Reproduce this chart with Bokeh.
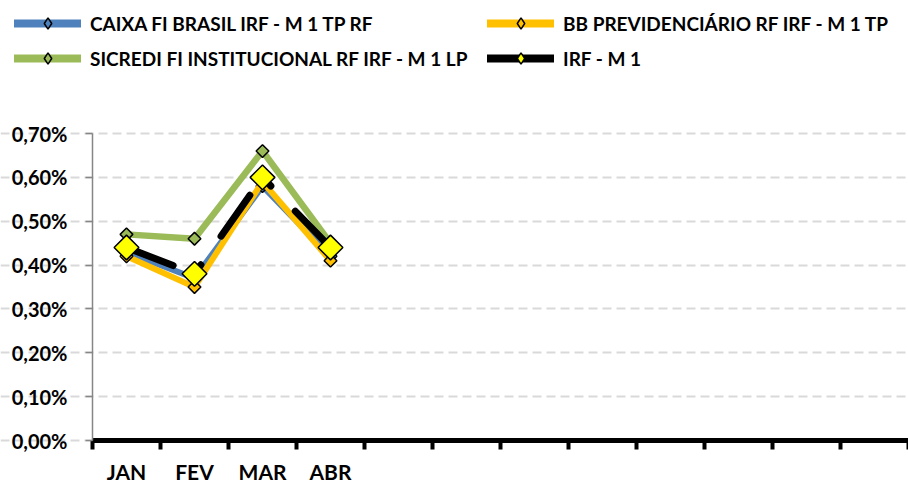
import math
from bokeh.plotting import figure
from bokeh.models import (FixedTicker, CustomJSTickFormatter, Legend, LegendItem, Range1d)
from bokeh.embed import file_html
from bokeh.resources import INLINE

# ---- data (percent) ----
months = ["JAN", "FEV", "MAR", "ABR"]
n_slots = 12
caixa = [0.43, 0.37, 0.58, 0.42]
bb = [0.42, 0.35, 0.59, 0.41]
sicredi = [0.47, 0.46, 0.66, 0.45]
irfm1 = [0.44, 0.38, 0.60, 0.44]
y_ticks = [0.0, 0.1, 0.2, 0.3, 0.4, 0.5, 0.6, 0.7]
y_max = 0.70

labels = {
    "caixa": "CAIXA FI BRASIL IRF - M 1 TP RF",
    "bb": "BB PREVIDENCIÁRIO RF IRF - M 1 TP",
    "sicredi": "SICREDI FI INSTITUCIONAL RF IRF - M 1 LP",
    "irf": "IRF - M 1",
}

FONT = "Lato"
BLUE = "#4f81bd"
ORANGE = "#ffc000"
GREEN = "#9bbb59"
YELLOW = "#ffff00"

# layout: plot area spans x=92..908 and y=133 (0.70%)..440 (0.00%).
# The frame covers the whole canvas so that legends and axis labels (drawn
# inside the frame) are not clipped; both axes sit at fixed data locations.
W, H, AREA_BOTTOM, AREA_TOP, AREA_LEFT = 908, 485, 440, 133, 92
px_per_unit = (AREA_BOTTOM - AREA_TOP) / y_max
y_start = -(H - AREA_BOTTOM) / px_per_unit
y_end = AREA_BOTTOM / px_per_unit
slot_px = (W - AREA_LEFT) / n_slots
x_start = 0.5 - AREA_LEFT / slot_px

x = list(range(1, len(months) + 1))

p = figure(width=W, height=H, output_backend="svg", toolbar_location=None,
           x_range=Range1d(x_start, n_slots + 0.5), y_range=Range1d(y_start, y_end),
           min_border_left=0, min_border_right=0, min_border_top=0,
           min_border_bottom=0)
p.outline_line_color = None
p.background_fill_color = "white"

ROT = math.pi / 4

def series(vals, color, lw=6, dash="solid"):
    return p.line(x, vals, line_color=color, line_width=lw, line_cap="round",
                  line_join="round", line_dash=dash)

series(caixa, BLUE)
p.scatter(x, caixa, marker="square", angle=ROT, size=9,
          fill_color=BLUE, line_color="black", line_width=1.5)
series(bb, ORANGE)
p.scatter(x, bb, marker="square", angle=ROT, size=9,
          fill_color=ORANGE, line_color="black", line_width=1.5)
series(sicredi, GREEN, lw=6.5)
p.scatter(x, sicredi, marker="square", angle=ROT, size=9,
          fill_color=GREEN, line_color="black", line_width=1.5)
series(irfm1, "black", lw=7, dash="50 33 1 35")
p.scatter(x, irfm1, marker="square", angle=ROT, size=17.5,
          fill_color=YELLOW, line_color="black", line_width=1.5)

# ---- axes ----
xa = p.xaxis[0]
xa.fixed_location = 0
xa.bounds = (0.5, n_slots + 0.5)
xa.ticker = FixedTicker(ticks=x, minor_ticks=[i + 0.5 for i in range(n_slots + 1)])
xa.major_label_overrides = {i + 1: m for i, m in enumerate(months)}
xa.major_tick_line_color = None
xa.major_tick_out = 0
xa.major_tick_in = 0
xa.minor_tick_line_color = "black"
xa.minor_tick_line_width = 4
xa.minor_tick_out = 9
xa.minor_tick_in = 0
xa.axis_line_color = "black"
xa.axis_line_width = 5
xa.major_label_standoff = 9
xa.major_label_text_font = FONT
xa.major_label_text_font_style = "bold"
xa.major_label_text_font_size = "21px"
xa.major_label_text_color = "black"

ya = p.yaxis[0]
ya.fixed_location = 0.5
ya.ticker = FixedTicker(ticks=y_ticks)
ya.bounds = (0, y_max)
ya.formatter = CustomJSTickFormatter(code="return tick.toFixed(2).replace('.', ',') + '%';")
ya.axis_line_color = "#868686"
ya.axis_line_width = 1.5
ya.major_tick_line_color = "#868686"
ya.major_tick_line_width = 1.5
ya.major_tick_out = 7
ya.major_tick_in = 0
ya.minor_tick_line_color = None
ya.major_label_standoff = 18
ya.major_label_text_font = FONT
ya.major_label_text_font_style = "bold"
ya.major_label_text_font_size = "20px"
ya.major_label_text_color = "black"

p.xgrid.grid_line_color = None
p.ygrid.grid_line_color = "#d9d9d9"
p.ygrid.grid_line_width = 2
p.ygrid.grid_line_dash = "9 5"
p.ygrid.bounds = (0.5, n_slots + 0.5)

# ---- legend (two columns) ----
NAN = float("nan")

def legend_glyphs(color, fill):
    ln = p.line([NAN], [NAN], line_color=color, line_width=8, line_cap="round")
    mk = p.scatter([NAN], [NAN], marker="diamond", size=10, fill_color=fill,
                   line_color="black", line_width=1.5)
    return [ln, mk]

def make_legend(items, vx):
    return Legend(items=items, location=(vx, 413), glyph_width=67, glyph_height=28,
                  label_height=28, spacing=7, label_standoff=9, padding=0, margin=0,
                  border_line_color=None, background_fill_alpha=0,
                  label_text_font=FONT, label_text_font_style="bold",
                  label_text_font_size="19px", label_text_color="black")

leg1 = make_legend([
    LegendItem(label=labels["caixa"], renderers=legend_glyphs(BLUE, BLUE)),
    LegendItem(label=labels["sicredi"], renderers=legend_glyphs(GREEN, GREEN)),
], 14)
leg2 = make_legend([
    LegendItem(label=labels["bb"], renderers=legend_glyphs(ORANGE, ORANGE)),
    LegendItem(label=labels["irf"], renderers=legend_glyphs("black", YELLOW)),
], 487)
p.add_layout(leg1)
p.add_layout(leg2)

open("out.html", "w").write(file_html(p, INLINE))
